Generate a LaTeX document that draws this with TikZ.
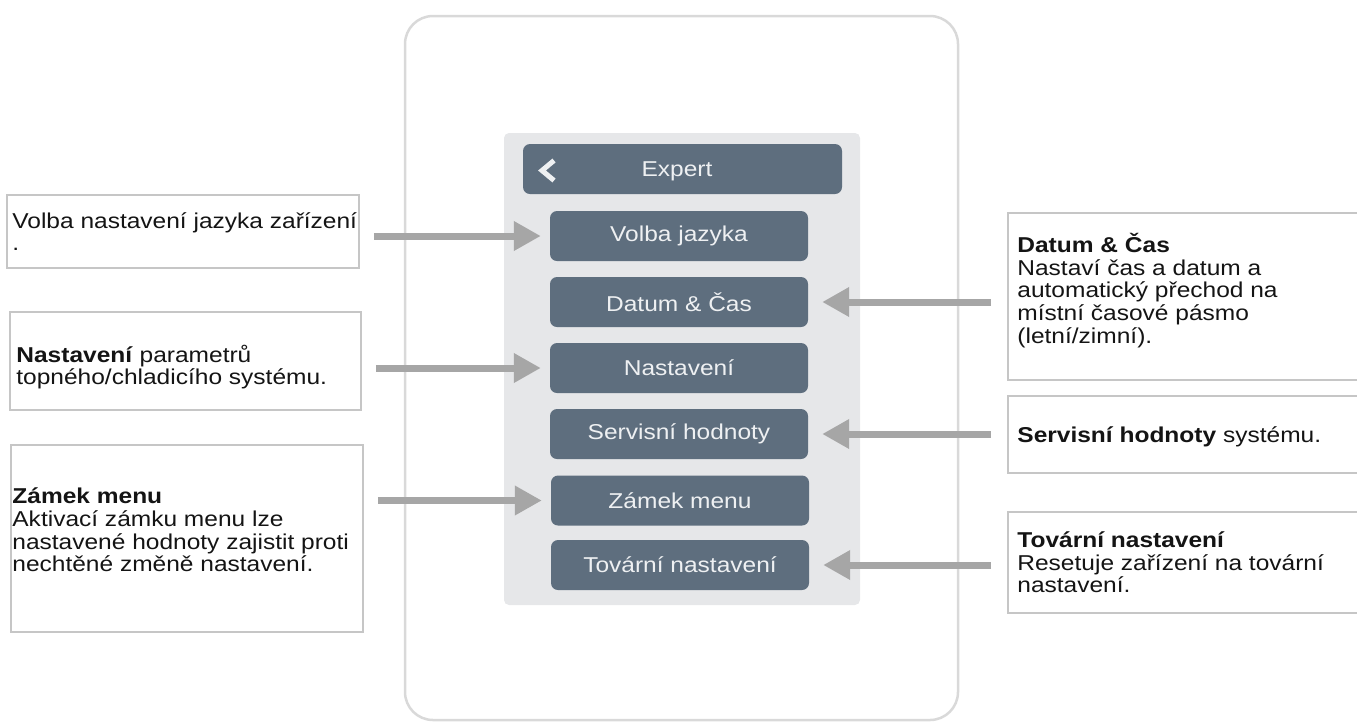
\documentclass[tikz,border=0pt]{standalone}
\usepackage{fontspec}
\setmainfont{Liberation Sans}[FakeStretch=1.14]
\usetikzlibrary{arrows.meta}

\definecolor{slate}{HTML}{5E6E7E}
\definecolor{panelgray}{HTML}{E6E7E9}
\definecolor{arrowgray}{HTML}{A6A6A6}
\definecolor{framegray}{HTML}{C6C6C6}
\definecolor{devgray}{HTML}{D9D9D9}
\definecolor{ink}{HTML}{141414}
\definecolor{btntext}{HTML}{EEF0F2}

\begin{document}
\begin{tikzpicture}[x=1pt,y=-1pt,
  every node/.style={font=\fontsize{21.5}{22.7}\selectfont},
  menubtn/.style={rectangle, rounded corners=7pt, fill=slate, text=btntext,
    minimum width=258pt, minimum height=50pt, inner sep=0pt},
  infobox/.style={rectangle, draw=framegray, line width=1.6pt, inner sep=0pt},
  infotext/.style={anchor=west, align=left, text=ink, inner sep=0pt},
  pointer/.style={draw=arrowgray, line width=7pt,
    -{Triangle[length=27pt,width=28pt]}},
]
\useasboundingbox (0,0) rectangle (1357,724);
\begin{scope}
\clip (0,0) rectangle (1357,724);

% device outline and menu panel
\node[draw=devgray, line width=2.5pt, rounded corners=28pt, inner sep=0pt,
      minimum width=553pt, minimum height=704pt] (device) at (681.5,368) {};
\node[fill=panelgray, rounded corners=5pt, inner sep=0pt,
      minimum width=356pt, minimum height=472pt] (panel) at (682,369) {};

% header bar with back chevron
\node[menubtn, minimum width=319pt] (header) at (682.5,169) {};
\node[text=btntext, inner sep=0pt] (headtext) at (677,171) {Expert};
\draw[btntext, line width=5pt, line join=miter] (554,160.5) -- (542,170.5) -- (554,180.5);

% menu entries
\node[menubtn] (b1) at (679,236) {Volba jazyka};
\node[menubtn] (b2) at (679,302) {Datum \& Čas};
\node[menubtn] (b3) at (679,368) {Nastavení};
\node[menubtn] (b4) at (679,434) {Servisní hodnoty};
\node[menubtn] (b5) at (680,500.5) {Zámek menu};
\node[menubtn] (b6) at (680,565) {Tovární nastavení};

% explanation boxes, left side
\node[infobox, minimum width=352pt, minimum height=73pt] (lb1) at (183,231.5) {};
\node[infotext] (lt1) at ([xshift=6pt]lb1.west) {Volba nastavení jazyka zařízení\\.};
\node[infobox, minimum width=351pt, minimum height=98pt] (lb2) at (185.5,361) {};
\node[infotext] (lt2) at ([xshift=7pt,yshift=-6pt]lb2.west)
  {\textbf{Nastavení} parametrů\\topného/chladicího systému.};
\node[infobox, minimum width=352pt, minimum height=187pt] (lb3) at (187,538.5) {};
\node[infotext] (lt3) at ([xshift=2pt,yshift=8.5pt]lb3.west)
  {\textbf{Zámek menu}\\Aktivací zámku menu lze\\nastavené hodnoty zajistit proti\\nechtěné změně nastavení.};

% explanation boxes, right side
\node[infobox, minimum width=362pt, minimum height=167pt] (rb1) at (1189,296.5) {};
\node[infotext] (rt1) at ([xshift=10pt,yshift=6pt]rb1.west)
  {\textbf{Datum \& Čas}\\Nastaví čas a datum a\\automatický přechod na\\místní časové pásmo\\(letní/zimní).};
\node[infobox, minimum width=362pt, minimum height=77pt] (rb2) at (1189,434.5) {};
\node[infotext] (rt2) at ([xshift=10pt,yshift=-2.5pt]rb2.west)
  {\textbf{Servisní hodnoty} systému.};
\node[infobox, minimum width=362pt, minimum height=101pt] (rb3) at (1189,562.5) {};
\node[infotext] (rt3) at ([xshift=10pt]rb3.west)
  {\textbf{Tovární nastavení}\\Resetuje zařízení na tovární\\nastavení.};

% pointers
\draw[pointer, shorten <=14pt, shorten >=9pt] (lb1.east |- b1.west) -- (b1.west);
\draw[pointer, shorten <=14pt, shorten >=9pt] (lb2.east |- b3.west) -- (b3.west);
\draw[pointer, shorten <=14pt, shorten >=9pt] (lb3.east |- b5.west) -- (b5.west);
\draw[pointer, shorten <=16pt, shorten >=14pt] (rb1.west |- b2.east) -- (b2.east);
\draw[pointer, shorten <=16pt, shorten >=14pt] (rb2.west |- b4.east) -- (b4.east);
\draw[pointer, shorten <=16pt, shorten >=14pt] (rb3.west |- b6.east) -- (b6.east);
\end{scope}
\end{tikzpicture}
\end{document}
